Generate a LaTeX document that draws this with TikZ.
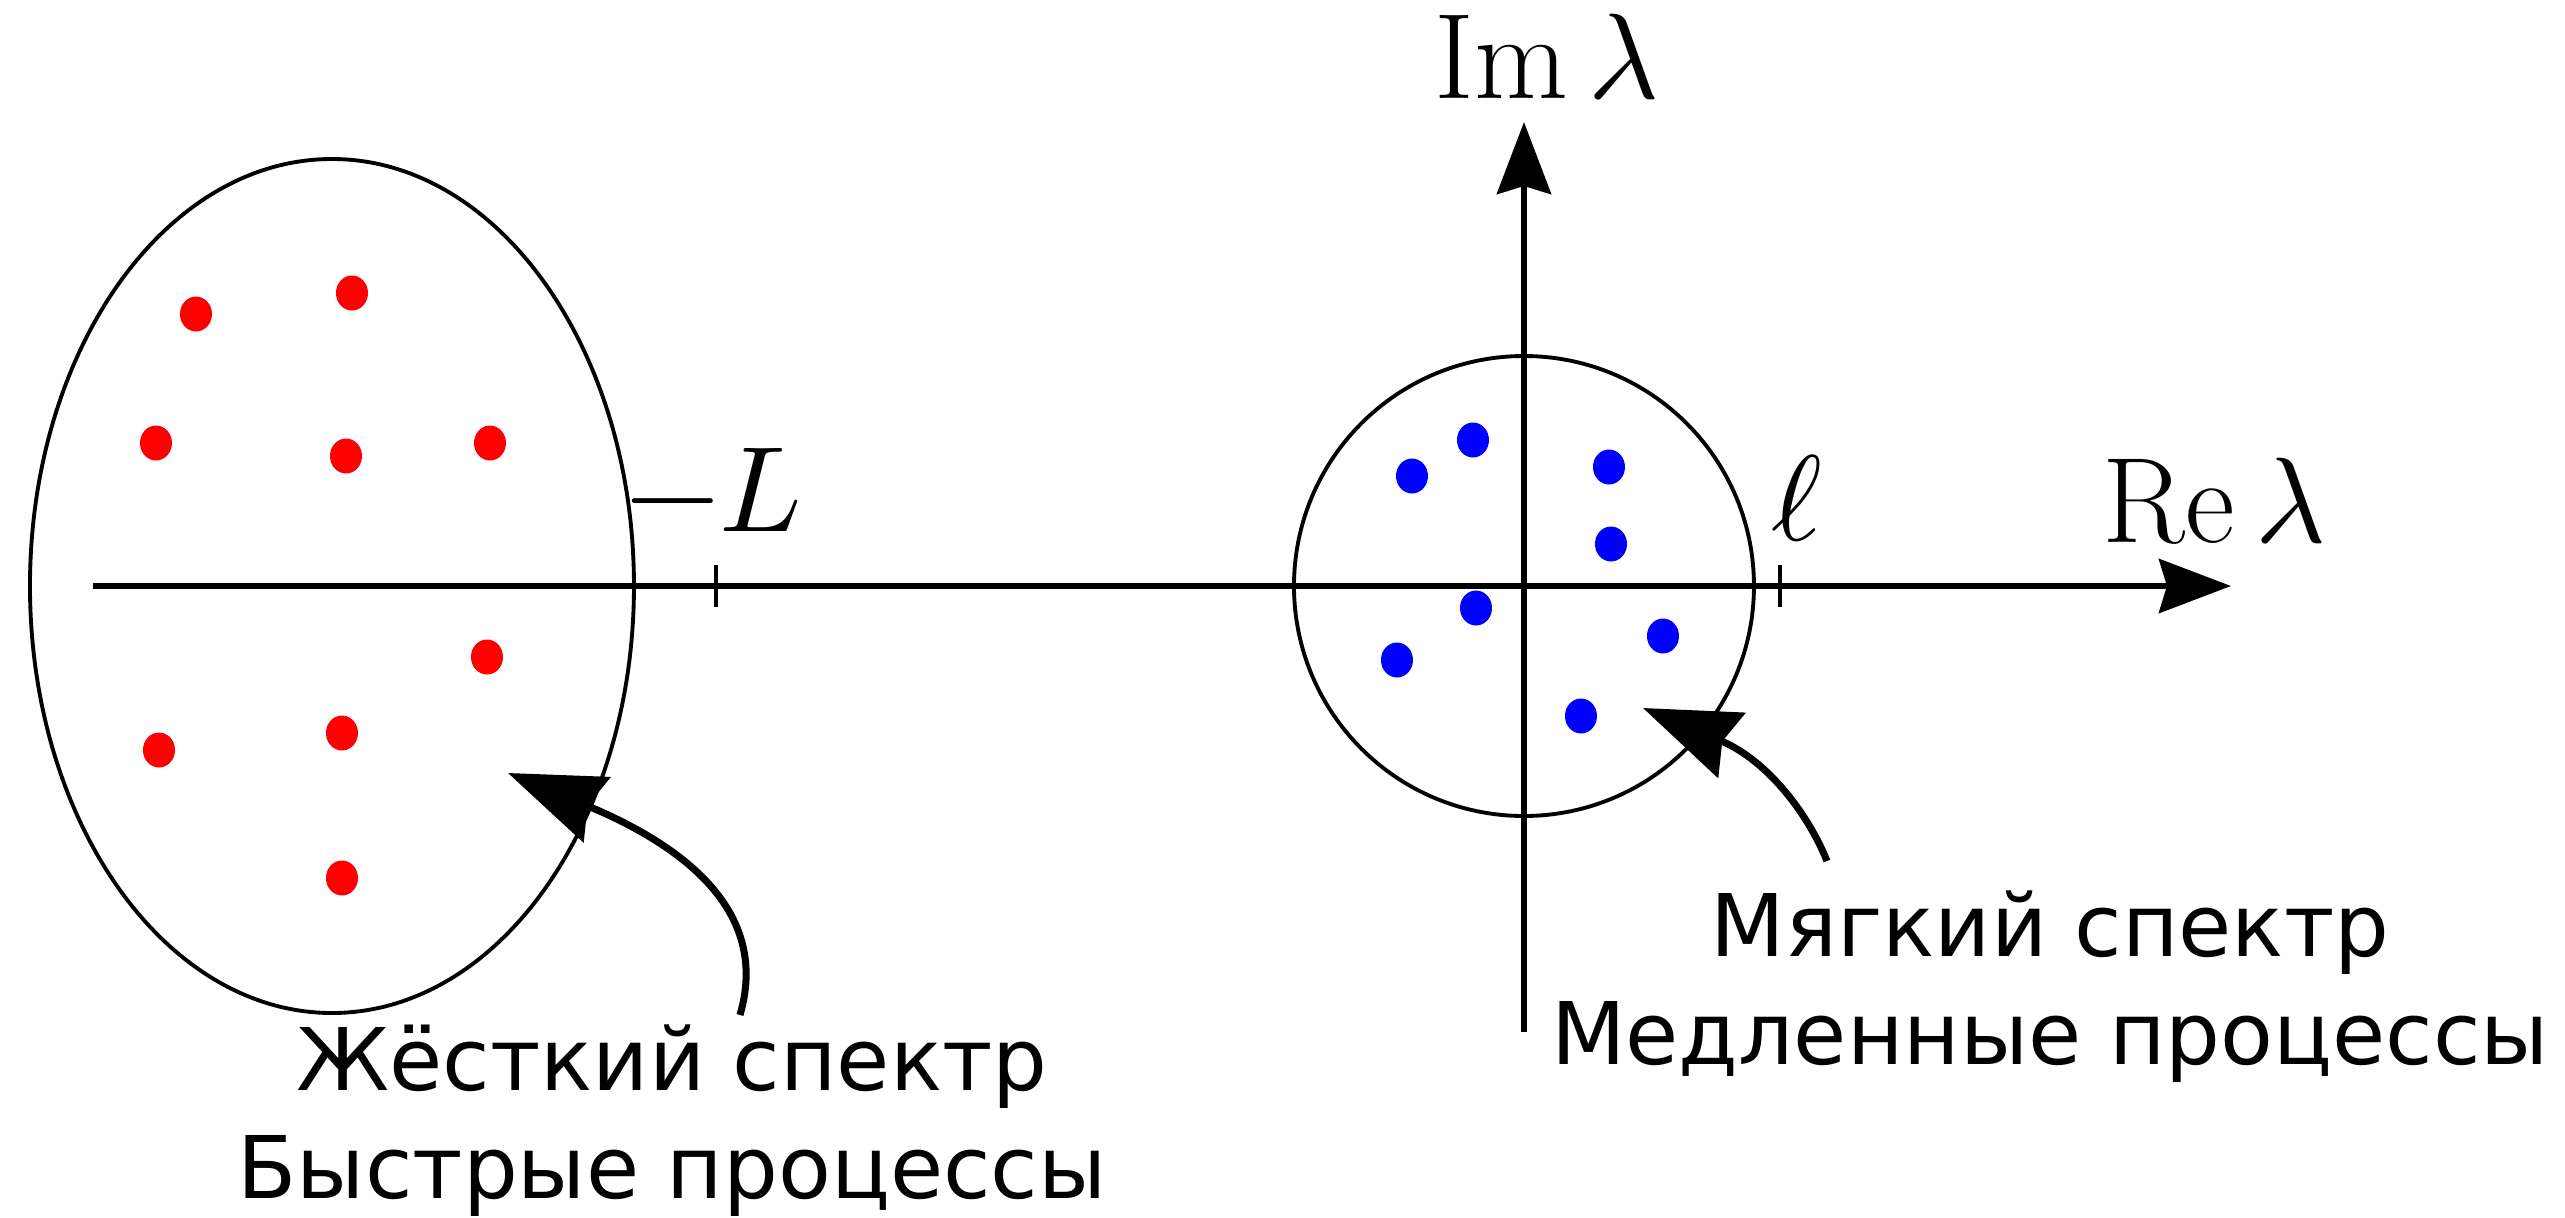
\documentclass[tikz,border=0pt]{standalone}
\usepackage{fontspec}
\usepackage{unicode-math}
\setmathfont{Latin Modern Math}
\newfontfamily\labelfont{DejaVu Sans}
\usetikzlibrary{arrows.meta}
\tikzset{
  >=Stealth,
  axisarrow/.style={-{Stealth[length=7.2mm, width=5.4mm, inset=0.8mm]}, line width=1.7pt},
  pointarrow/.style={-{Stealth[length=9.6mm, width=7mm, inset=1mm]}, line width=2pt}
}

\begin{document}
\begin{tikzpicture}[
    region/.style={draw, line width=1.1pt},
    tickmark/.style={line width=1.2pt},
    harddot/.style={fill=red, x radius=0.16, y radius=0.175},
    softdot/.style={fill=blue, x radius=0.16, y radius=0.175},
    mathlabel/.style={font=\fontsize{34.6}{40}\selectfont, inner sep=0pt},
    caption/.style={font=\labelfont\fontsize{24.6}{30.7}\selectfont, align=center, inner sep=0pt}
]
    \useasboundingbox (-15.24,-6.31) rectangle (10.41,5.86);

    % Spectrum regions: hard (ellipse) and soft (circle round origin)
    \draw[region] (-11.92, 0) ellipse [x radius=3.02, y radius=4.27];
    \draw[region] (0, 0) circle [radius=2.30];

    % Hard spectrum eigenvalues
    \fill[harddot] (-13.28, 2.72) circle;
    \fill[harddot] (-11.72, 2.93) circle;
    \fill[harddot] (-13.68, 1.43) circle;
    \fill[harddot] (-11.78, 1.30) circle;
    \fill[harddot] (-10.34, 1.43) circle;
    \fill[harddot] (-10.37, -0.71) circle;
    \fill[harddot] (-13.65, -1.64) circle;
    \fill[harddot] (-11.82, -1.47) circle;
    \fill[harddot] (-11.82, -2.92) circle;

    % Soft spectrum eigenvalues
    \fill[softdot] (-0.51, 1.46) circle;
    \fill[softdot] (-1.12, 1.10) circle;
    \fill[softdot] (0.85, 1.19) circle;
    \fill[softdot] (0.87, 0.42) circle;
    \fill[softdot] (-0.48, -0.22) circle;
    \fill[softdot] (-1.27, -0.74) circle;
    \fill[softdot] (1.39, -0.50) circle;
    \fill[softdot] (0.57, -1.30) circle;

    % Axes
    \coordinate (restart) at (-14.31, 0);
    \coordinate (reend) at (7.07, 0);
    \coordinate (imstart) at (0, -4.46);
    \coordinate (imend) at (0, 4.64);
    \draw[axisarrow] (restart) -- (reend);
    \draw[axisarrow] (imstart) -- (imend);

    % Ticks at -L and l
    \draw[tickmark] (-8.08, -0.21) -- (-8.08, 0.21);
    \draw[tickmark] (2.56, -0.21) -- (2.56, 0.21);

    % Axis labels
    \node[mathlabel, anchor=base] (imlabel) at (0.23, 4.88) {$\mathrm{Im}\,\lambda$};
    \node[mathlabel, anchor=base] (relabel) at (6.905, 0.44) {$\mathrm{Re}\,\lambda$};
    \node[mathlabel, anchor=base] (minuslabel) at (-8.10, 0.55) {$-L$};
    \node[mathlabel, anchor=base] (elllabel) at (2.73, 0.46) {$\ell$};

    % Captions (base = last line)
    \node[caption, anchor=base] (hardtext) at (-8.52, -6.12) {Жёсткий спектр\\Быстрые процессы};
    \node[caption, anchor=base] (softtext) at (5.26, -4.78) {Мягкий спектр\\Медленные процессы};

    % Pointers from captions to regions
    \coordinate (hardtail) at (-7.84, -4.29);
    \coordinate (hardtip) at (-10.16, -1.87);
    \coordinate (softtail) at (3.03, -2.75);
    \coordinate (softtip) at (1.19, -1.22);
    \draw[pointarrow] (hardtail) .. controls (-7.55, -3.30) and (-8.32, -2.63) .. (hardtip);
    \draw[pointarrow] (softtail) .. controls (2.85, -2.30) and (2.45, -1.75) .. (softtip);
\end{tikzpicture}
\end{document}
